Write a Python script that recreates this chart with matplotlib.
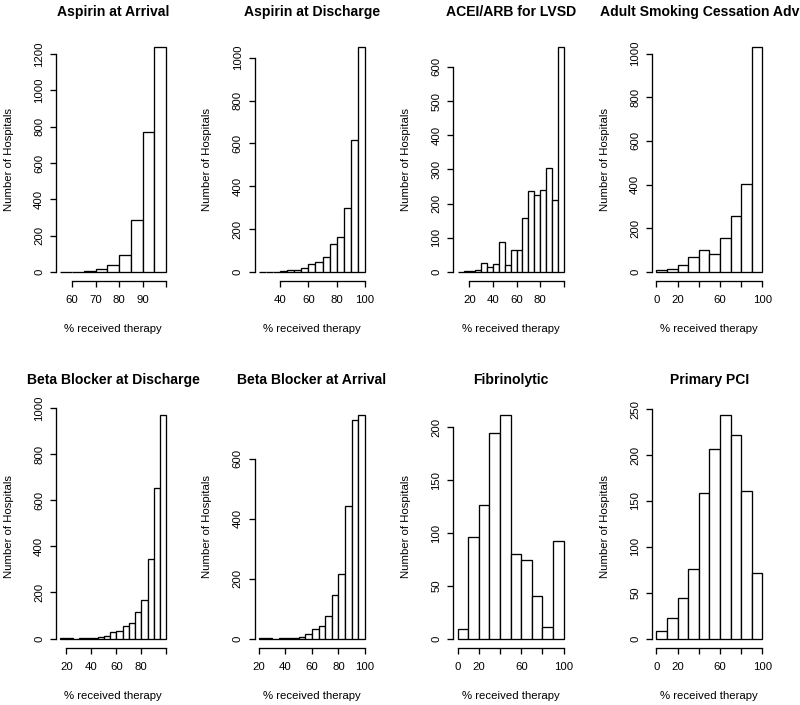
import numpy as np
import matplotlib
matplotlib.use('Agg')
import matplotlib.pyplot as plt
from matplotlib.transforms import Bbox, TransformedBbox

plt.rcParams['font.family'] = ['Liberation Sans', 'DejaVu Sans']

titles = ['Aspirin at Arrival', 'Aspirin at Discharge', 'ACEI/ARB for LVSD',
          'Adult Smoking Cessation Advice', 'Beta Blocker at Discharge',
          'Beta Blocker at Arrival', 'Fibrinolytic', 'Primary PCI']

# histogram breaks: first break and bin width, counts per bin
bin_starts = [55, 25, 10, 0, 15, 20, 0, 0]
bin_widths = [5, 5, 5, 10, 5, 5, 10, 10]
counts = [
    [1, 2, 5, 16, 40, 93, 286, 772, 1238],
    [1, 1, 2, 3, 9, 11, 19, 36, 45, 70, 129, 165, 298, 615, 1050],
    [1, 3, 4, 5, 26, 14, 22, 87, 20, 64, 63, 157, 238, 226, 239, 304, 210, 658],
    [7, 13, 31, 67, 101, 84, 155, 256, 402, 1030],
    [1, 1, 0, 1, 2, 4, 9, 10, 27, 32, 53, 66, 114, 169, 346, 651, 971],
    [1, 1, 0, 1, 1, 2, 4, 14, 31, 43, 74, 146, 217, 442, 729, 748],
    [9, 96, 126, 195, 212, 80, 74, 40, 11, 92],
    [8, 22, 44, 76, 159, 206, 244, 222, 161, 71],
]

x_ticks = [
    [60, 70, 80, 90, 100],
    [40, 60, 80, 100],
    [20, 40, 60, 80, 100],
    [0, 20, 40, 60, 80, 100],
    [20, 40, 60, 80, 100],
    [20, 40, 60, 80, 100],
    [0, 20, 40, 60, 80, 100],
    [0, 20, 40, 60, 80, 100],
]
x_ticklabels = [
    ['60', '70', '80', '90', ''],
    ['40', '60', '80', '100'],
    ['20', '40', '60', '80', ''],
    ['0', '20', '', '60', '', '100'],
    ['20', '40', '60', '80', ''],
    ['20', '40', '60', '80', '100'],
    ['0', '20', '', '60', '', '100'],
    ['0', '20', '', '60', '', '100'],
]
y_steps = [200, 200, 100, 200, 200, 200, 50, 50]

W, H = 800, 705
fig = plt.figure(figsize=(W / 100, H / 100), dpi=100)

lw = 0.95
for i in range(8):
    row, col = i // 4, i % 4
    left = 56 + 198.7 * col
    pw = 114.5
    if row == 0:
        bottom, ph = 281, 243
    else:
        bottom, ph = 647.6, 242
    ax = fig.add_axes([left / W, 1 - bottom / H, pw / W, ph / H])

    c = np.array(counts[i])
    edges = bin_starts[i] + bin_widths[i] * np.arange(len(c) + 1)
    ax.bar(edges[:-1], c, width=np.diff(edges), align='edge',
           color='white', edgecolor='black', linewidth=lw)
    ax.use_sticky_edges = False
    ax.margins(x=0.04, y=0.04)

    ymax = ax.get_ylim()[1]
    yt = np.arange(0, ymax, y_steps[i])
    ax.set_yticks(yt)
    ax.set_yticklabels([str(int(v)) for v in yt])
    ax.set_xticks(x_ticks[i])
    ax.set_xticklabels(x_ticklabels[i])

    for s in ['top', 'right']:
        ax.spines[s].set_visible(False)
    for s in ['left', 'bottom']:
        ax.spines[s].set_linewidth(lw)
    ax.spines['left'].set_bounds(0, yt[-1])
    ax.spines['bottom'].set_bounds(x_ticks[i][0], x_ticks[i][-1])

    ax.tick_params(length=4.1, width=lw, labelsize=8.2, color='black')
    ax.tick_params(axis='x', pad=6)
    ax.tick_params(axis='y', pad=4.5)
    for lab in ax.get_yticklabels():
        lab.set_rotation(90)
        lab.set_va('center')

    ax.text(0.5, -48 / ph, '% received therapy', transform=ax.transAxes,
            ha='center', va='center', fontsize=8.2)
    ax.text(-47.3 / pw, 0.5, 'Number of Hospitals', transform=ax.transAxes,
            ha='center', va='center', rotation=90, fontsize=8.2)

    t = ax.text(0.5, 1 + 26 / ph, titles[i], transform=ax.transAxes,
                ha='center', va='center', fontsize=10.05, fontweight='bold')
    clip = Bbox([[col * 200 / W, 0], [(col + 1) * 200 / W, 1]])
    t.set_clip_box(TransformedBbox(clip, fig.transFigure))
    t.set_clip_on(True)

fig.savefig('out.png', dpi=100)
